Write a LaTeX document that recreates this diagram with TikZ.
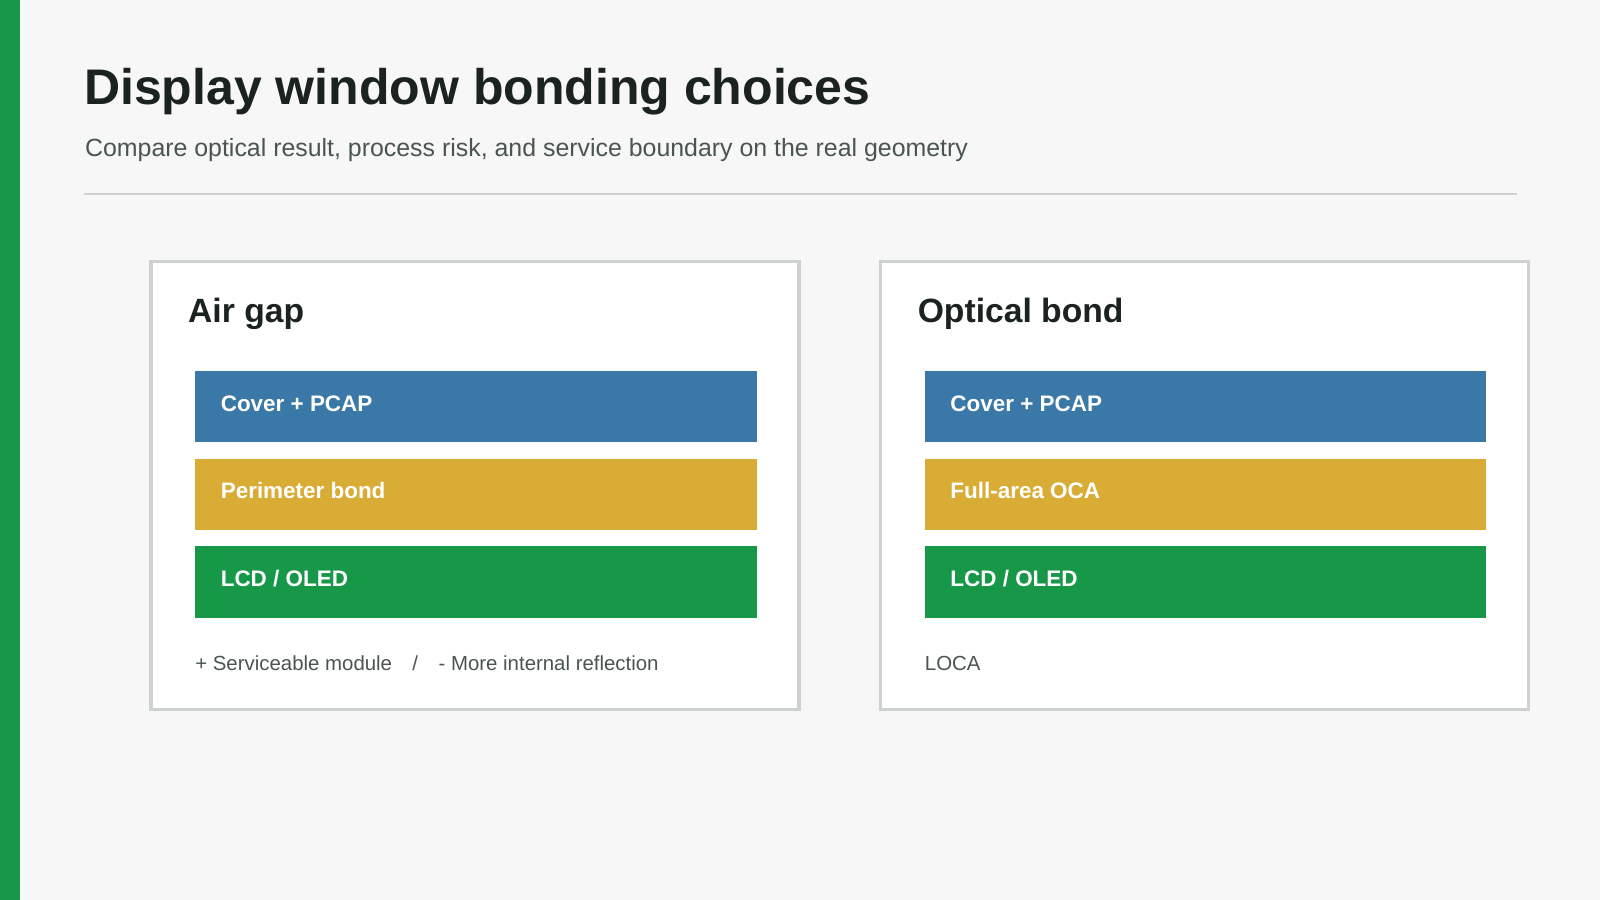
\documentclass[tikz,border=0pt]{standalone}
\usepackage{fontspec}
\setmainfont{Liberation Sans}
\definecolor{bg}{HTML}{F6F7F6}
\definecolor{gr}{HTML}{179849}
\definecolor{bl}{HTML}{3A78A8}
\definecolor{ye}{HTML}{D8AC35}
\definecolor{bd}{HTML}{CDD2D0}
\definecolor{tx}{HTML}{1B2320}
\definecolor{sub}{HTML}{4A5553}
\begin{document}
\begin{tikzpicture}[x=0.5pt,y=-0.5pt,
 panel/.style={draw=bd,line width=1.5pt,fill=white},
 bar/.style={minimum width=275pt,minimum height=35pt,anchor=north west,inner sep=0pt},
 bartext/.style={anchor=base west,text=white,font=\fontsize{11}{13}\selectfont\bfseries},
 head/.style={anchor=base west,text=tx,font=\fontsize{16.5}{20}\selectfont\bfseries},
 foot/.style={anchor=base west,text=sub,font=\fontsize{10}{12}\selectfont}]
\fill[bg] (0,0) rectangle (1568,882);
\fill[gr] (0,0) rectangle (20,882);
\node[anchor=base west,inner sep=0pt,text=tx,font=\fontsize{24.5}{28}\selectfont\bfseries] (title) at (82,102) {Display window bonding choices};
\node[anchor=base west,inner sep=0pt,text=sub,font=\fontsize{12.2}{14}\selectfont] (subtitle) at (83,153) {Compare optical result, process risk, and service boundary on the real geometry};
\draw[bd,line width=1.2pt] (82,190) -- (1487,190);
\foreach \ox/\n/\h/\m/\f in {0/l/Air gap/Perimeter bond/{+ Serviceable module\quad/\quad - More internal reflection},715/r/Optical bond/Full-area OCA / LOCA/{+ Low parallax\quad/\quad - Tighter process and rework}}{
 \draw[panel] (148+\ox,256) rectangle (783+\ox,695);
 \node[head,inner sep=0pt] (h\n) at (184+\ox,316) {\h};
 \node[bar,fill=bl] (b1\n) at (191+\ox,363) {};
 \node[bar,fill=ye] (b2\n) at (191+\ox,449) {};
 \node[bar,fill=gr] (b3\n) at (191+\ox,535) {};
 \node[bartext,inner sep=0pt] (t1\n) at (216+\ox,403) {Cover + PCAP};
 \node[bartext,inner sep=0pt] (t2\n) at (216+\ox,489) {\m};
 \node[bartext,inner sep=0pt] (t3\n) at (216+\ox,575) {LCD / OLED};
 \node[foot,inner sep=0pt] (f\n) at (191+\ox,657) {\f};
}
\end{tikzpicture}
\end{document}
